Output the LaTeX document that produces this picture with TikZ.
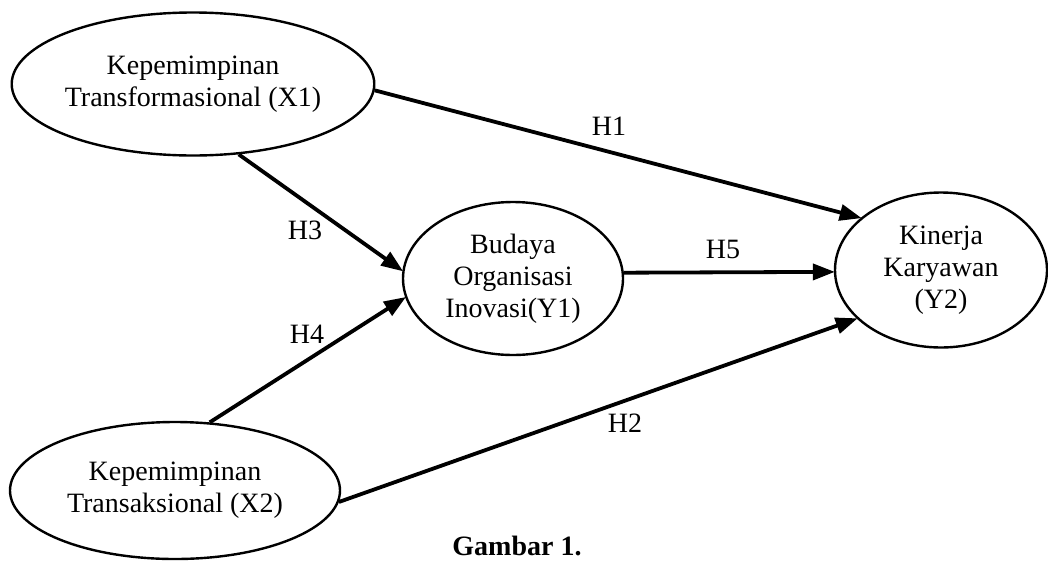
\documentclass[tikz,border=0pt]{standalone}
\usepackage{fontspec}
\setmainfont{Liberation Serif}
\usetikzlibrary{shapes.geometric,arrows.meta}
\tikzset{
  var/.style={draw, ellipse, line width=2.4pt, inner sep=0pt, align=center,
    font=\fontsize{28}{32}\selectfont},
  path/.style={line width=3.8pt, -{Triangle[length=22pt,width=16pt]}, shorten >=-1pt},
  hlab/.style={anchor=base, font=\fontsize{28}{32}\selectfont}
}
\begin{document}
\begin{tikzpicture}[x=1pt,y=-1pt]
\useasboundingbox (0,0) rectangle (1048,560);
\node[var, minimum width=358pt, minimum height=143pt] (X1) at (193,84) {Kepemimpinan\\Transformasional (X1)};
\node[var, minimum width=330pt, minimum height=137pt] (X2) at (175,490.5) {Kepemimpinan\\Transaksional (X2)};
\node[var, minimum width=220pt, minimum height=153pt] (Y1) at (513,278.5) {Budaya\\Organisasi\\Inovasi(Y1)};
\node[var, minimum width=212pt, minimum height=155pt] (Y2) at (941,270) {Kinerja\\Karyawan\\(Y2)};
\draw[path] (X1.-2) -- (Y2.147.7);
\draw[path] (X1.-57.6) -- (Y1.176);
\draw[path] (X2.63) -- (Y1.190);
\draw[path] (Y1.3) -- (Y2.181);
\draw[path] (X2.-4) -- (Y2.210);
\node[hlab] (h1) at (609,135) {H1};
\node[hlab] (h3) at (305,239) {H3};
\node[hlab] (h4) at (307,343) {H4};
\node[hlab] (h5) at (723,258) {H5};
\node[hlab] (h2) at (625,432) {H2};
\node[hlab, font=\fontsize{28}{32}\selectfont\bfseries] (cap) at (517,555) {Gambar 1.};
\end{tikzpicture}
\end{document}
